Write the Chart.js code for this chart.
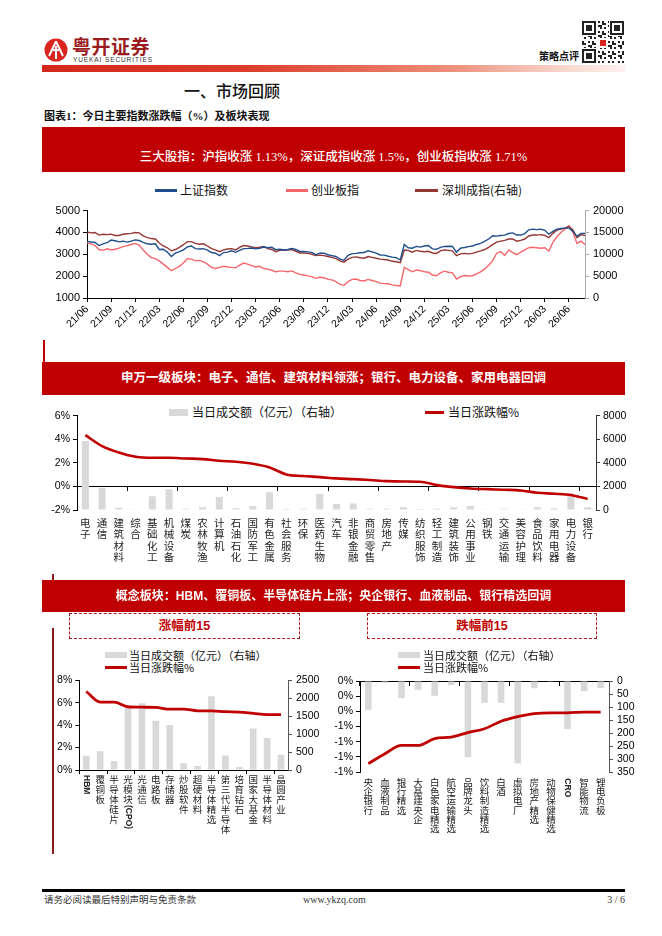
<!DOCTYPE html>
<html><head><meta charset="utf-8">
<script src="https://cdn.jsdelivr.net/npm/chart.js@4.4.1/dist/chart.umd.min.js"></script>
<style>
html,body{margin:0;padding:0;background:#fff;}
body{width:662px;height:936px;position:relative;overflow:hidden;font-family:"Noto Sans CJK SC",sans-serif;color:#111;}
.a{position:absolute;white-space:nowrap;}
.banner{position:absolute;left:42px;width:583px;background:#c00000;}
.btxt{position:absolute;left:42px;width:583px;text-align:center;color:#fff;font-size:12.5px;height:18px;line-height:18px;font-family:"Liberation Serif","Noto Sans CJK SC",serif;}
.leg{position:absolute;font-size:12px;height:16px;line-height:16px;color:#111;font-family:"Noto Sans CJK SC",sans-serif;}
.dash{position:absolute;border:1px dashed #b01818;text-align:center;color:#c00000;font-weight:700;font-size:12.5px;font-family:"Liberation Sans","Noto Sans CJK SC",sans-serif;}
canvas{position:absolute;}
</style></head>
<body>
<!-- header -->
<div class="a" style="left:44px;top:38px;width:24px;height:24px;">
<svg width="24" height="24" viewBox="0 0 24 24"><circle cx="12" cy="12" r="11.5" fill="#d7261e"/><path d="M12 3.5 L5 18 M12 3.5 L19 18 M7 12 H17 M12 8 V21" stroke="#fff" stroke-width="2" fill="none"/></svg>
</div>
<div class="a" style="left:72px;top:35px;font-size:19px;font-weight:700;color:#9b1c1f;letter-spacing:0.5px;line-height:22px;">粤开证券</div>
<div class="a" style="left:73px;top:56px;font-size:6.5px;color:#333;letter-spacing:0.9px;font-family:'Liberation Sans';line-height:8px;">YUEKAI SECURITIES</div>
<div class="a" style="left:539px;top:49px;font-size:10px;font-weight:700;line-height:14px;">策略点评</div>
<canvas id="qr" width="44" height="46" style="left:581px;top:19px;"></canvas>
<div class="a" style="left:42px;top:65px;width:583px;height:7px;background:linear-gradient(to right,#d2281c 0%,#dd3d2a 35%,#ec8f7a 70%,#f8d9d0 90%,#fdf1ee 100%);"></div>
<div class="a" style="left:184px;top:79px;font-size:16px;font-weight:500;line-height:22px;">一、市场回顾</div>
<div class="a" style="left:44px;top:109px;font-size:11px;font-weight:700;line-height:15px;font-family:'Liberation Serif','Noto Sans CJK SC',serif;">图表1：今日主要指数涨跌幅（%）及板块表现</div>

<!-- banner 1 -->
<div class="banner" style="top:127px;height:45px;"></div>
<div class="btxt" style="top:148px;font-weight:500;">三大股指：沪指收涨 1.13%，深证成指收涨 1.5%，创业板指收涨 1.71%</div>

<!-- top legend -->
<div class="a" style="left:155px;top:189px;width:22px;height:2.5px;background:#1f4e8c;"></div>
<div class="leg" style="left:180px;top:182px;">上证指数</div>
<div class="a" style="left:286px;top:189px;width:22px;height:2.5px;background:#f4676b;"></div>
<div class="leg" style="left:311px;top:182px;">创业板指</div>
<div class="a" style="left:415px;top:189px;width:23px;height:2.5px;background:#953735;"></div>
<div class="leg" style="left:442px;top:182px;">深圳成指(右轴)</div>
<canvas id="cTop" width="583" height="140" style="left:42px;top:200px;"></canvas>

<div class="a" style="left:43px;top:340px;width:1.5px;height:22px;background:#c00000;"></div>

<!-- banner 2 -->
<div class="banner" style="top:362px;height:33px;"></div>
<div class="btxt" style="top:369px;font-weight:700;">申万一级板块：电子、通信、建筑材料领涨；银行、电力设备、家用电器回调</div>

<div class="a" style="left:169px;top:409px;width:19px;height:7px;background:#d9d9d9;"></div>
<div class="leg" style="left:192px;top:404px;">当日成交额（亿元）（右轴）</div>
<div class="a" style="left:425px;top:411px;width:19px;height:3px;background:#c00000;"></div>
<div class="leg" style="left:448px;top:404px;">当日涨跌幅%</div>
<canvas id="cMid" width="590" height="175" style="left:42px;top:400px;"></canvas>

<!-- banner 3 -->
<div class="banner" style="top:580px;height:32px;"></div>
<div class="btxt" style="top:587px;font-weight:700;font-size:12px;font-family:'Liberation Sans','Noto Sans CJK SC',sans-serif;">概念板块：HBM、覆铜板、半导体硅片上涨；央企银行、血液制品、银行精选回调</div>

<div class="a" style="left:52px;top:574px;width:1.5px;height:6px;background:#8b1a1a;"></div>
<div class="a" style="left:52px;top:628px;width:1.5px;height:226px;background:#8b1a1a;"></div>

<div class="dash" style="left:69px;top:613px;width:229px;height:24px;line-height:24px;">涨幅前15</div>
<div class="dash" style="left:367px;top:613px;width:228px;height:24px;line-height:24px;">跌幅前15</div>

<div class="a" style="left:105px;top:652px;width:22px;height:6px;background:#d9d9d9;"></div>
<div class="leg" style="left:129px;top:647px;font-size:11px;">当日成交额（亿元）（右轴）</div>
<div class="a" style="left:105px;top:666px;width:22px;height:2.5px;background:#c00000;"></div>
<div class="leg" style="left:129px;top:659px;font-size:11px;">当日涨跌幅%</div>
<canvas id="cBL" width="290" height="180" style="left:45px;top:670px;"></canvas>

<div class="a" style="left:398px;top:652px;width:22px;height:6px;background:#d9d9d9;"></div>
<div class="leg" style="left:423px;top:647px;font-size:11px;">当日成交额（亿元）（右轴）</div>
<div class="a" style="left:398px;top:666px;width:22px;height:2.5px;background:#c00000;"></div>
<div class="leg" style="left:423px;top:659px;font-size:11px;">当日涨跌幅%</div>
<canvas id="cBR" width="308" height="180" style="left:328px;top:670px;"></canvas>

<!-- footer -->
<div class="a" style="left:42px;top:889px;width:583px;height:3px;background:#000;"></div>
<div class="a" style="left:44px;top:893px;font-size:9.5px;color:#333;line-height:14px;font-family:'Liberation Serif','Noto Sans CJK SC',serif;">请务必阅读最后特别声明与免责条款</div>
<div class="a" style="left:303px;top:893px;font-size:10px;color:#333;line-height:14px;font-family:'Liberation Serif',serif;">www.ykzq.com</div>
<div class="a" style="left:585px;top:893px;width:40px;text-align:right;font-size:10px;color:#333;line-height:14px;font-family:'Liberation Serif',serif;">3 / 6</div>

<script>
// ---------------- DATA ----------------
const months = ['21/06','21/07','21/08','21/09','21/10','21/11','21/12',
 '22/01','22/02','22/03','22/04','22/05','22/06','22/07','22/08','22/09','22/10','22/11','22/12',
 '23/01','23/02','23/03','23/04','23/05','23/06','23/07','23/08','23/09','23/10','23/11','23/12',
 '24/01','24/02','24/03','24/04','24/05','24/06','24/07','24/08','24/09','24/10','24/11','24/12',
 '25/01','25/02','25/03','25/04','25/05','25/06','25/07','25/08','25/09','25/10','25/11','25/12',
 '26/01','26/02','26/03','26/04','26/05','26/06','26/07','26/08'];
const quarterTicks = ['21/06','21/09','21/12','22/03','22/06','22/09','22/12','23/03','23/06','23/09','23/12',
 '24/03','24/06','24/09','24/12','25/03','25/06','25/09','25/12','26/03','26/06'];
// half-month samples (two per month)
const shIndex = [3590,3560,3540,3400,3480,3530,3650,3620,3570,3600,3560,3600,3660,3630,
 3550,3480,3460,3480,3220,3230,3100,2900,3050,3120,3200,3340,3380,3260,3240,3260,3190,3080,3050,2940,3080,3100,3160,3090,
 3180,3260,3270,3290,3250,3270,3330,3300,3320,3210,3230,3200,3220,3270,3220,3130,3130,3110,3090,2980,3050,3050,2980,2940,
 2900,2780,2730,2950,3030,3040,3070,3080,3160,3110,3050,2970,2960,2910,2870,2850,2740,3450,3300,3280,3360,3330,3380,3400,
 3250,3230,3320,3360,3370,3360,3100,3280,3310,3350,3380,3450,3500,3590,3700,3850,3830,3860,3880,3950,3980,3880,3880,3950,
 4120,4150,4130,4150,4100,3920,4050,4150,4180,4200,4200,4050,3820,3950,3960];
const szIndex = [15100,14900,15000,14400,14600,14500,14600,14300,14300,14600,14700,14800,15000,14900,
 14200,13800,13600,13500,12600,11900,11500,10800,11100,11600,12200,12900,12900,12500,12300,12400,11900,11300,11000,10600,11000,11200,11300,11000,
 11600,12000,11900,11700,11500,11600,11800,11300,11100,10600,10900,11000,11000,11100,10700,10300,10300,10200,10000,9700,9800,9700,9500,9300,
 9000,8500,8200,8900,9300,9400,9200,9100,9500,9300,9100,8900,8800,8700,8400,8300,8100,11000,10900,10500,10900,10700,10600,10700,
 10300,10200,10800,11000,10900,10800,9700,10100,10200,10100,10200,10500,10800,11100,11600,12200,12800,13000,13200,13500,13500,13000,13200,13500,
 14200,14400,14400,14500,14300,13800,14800,15500,15800,16000,16400,15600,13800,14500,14300];
const cybIndex = [3520,3480,3400,3220,3180,3250,3200,3230,3280,3350,3400,3450,3500,3420,
 3200,3000,2850,2800,2700,2550,2400,2250,2350,2450,2600,2800,2780,2700,2720,2650,2550,2400,2350,2400,2450,2420,2400,2380,
 2500,2600,2550,2480,2420,2450,2350,2320,2270,2200,2230,2230,2200,2240,2150,2080,2050,2010,1980,1900,1950,1930,1850,1830,
 1750,1620,1580,1750,1850,1870,1800,1780,1850,1800,1750,1680,1660,1650,1600,1570,1550,2400,2300,2200,2280,2250,2200,2180,
 2050,2020,2150,2230,2180,2150,1870,1980,2030,2010,2020,2100,2200,2320,2500,2700,3050,3120,2950,3200,3080,2980,3100,3200,
 3300,3320,3300,3280,3300,3150,3550,3800,4000,4150,4300,4000,3500,3600,3450];

const swSectors = ['电子','通信','建筑材料','综合','基础化工','机械设备','煤炭','农林牧渔','计算机','石油石化','国防军工','有色金属','社会服务','环保','医药生物','汽车','非银金融','商贸零售','房地产','传媒','纺织服饰','轻工制造','建筑装饰','公用事业','钢铁','交通运输','美容护理','食品饮料','家用电器','电力设备','银行'];
const swChange = [4.35,3.42,2.88,2.52,2.43,2.43,2.37,2.32,2.18,2.09,1.92,1.61,1.02,0.88,0.79,0.68,0.62,0.54,0.45,0.42,0.40,0.11,-0.06,-0.17,-0.23,-0.28,-0.34,-0.54,-0.62,-0.73,-1.07];
const swTurnover = [5850,1890,200,60,1160,1750,110,230,1100,140,340,1500,90,110,1360,510,560,110,110,230,90,110,230,340,60,110,60,230,140,1410,230];

const upNames = ['HBM','覆铜板','半导体硅片','光模块(CPO)','光通信','电路板','存储器','炒股软件','超硬材料','半导体精选','第三代半导体','培育钻石','国家大基金','半导体材料','晶圆产业'];
const upChange = [7.0,6.05,6.05,5.64,5.60,5.58,5.43,5.43,5.28,5.28,5.20,5.17,5.05,4.93,4.93];
const upTurnover = [400,525,250,1750,1860,1375,1255,185,110,2055,405,85,1160,895,425];

const downNames = ['央企银行','血液制品','银行精选','大基建央企','白色家电精选','航空运输精选','品牌龙头','饮料制造精选','白酒','虚拟电厂','房地产精选','动物保健精选','CRO','智能物流','锂电负极'];
const downChange = [-1.09,-0.96,-0.85,-0.85,-0.76,-0.74,-0.68,-0.63,-0.53,-0.47,-0.43,-0.42,-0.42,-0.41,-0.41];
const downTurnover = [111,7,66,34,57,15,293,84,84,317,28,3,185,39,27];

// ---------------- STYLE ----------------
const BLUE='#1f4e8c', PINK='#f4676b', BROWN='#953735', RED='#c00000', GRAY='#d9d9d9';
Chart.defaults.font.family = '"Liberation Sans","Noto Sans CJK SC",sans-serif';
Chart.defaults.color = '#000';
const halfMonths = months.flatMap(m => [m, m]).slice(0, shIndex.length);
const tickFont = {size: 11, family: '"Liberation Sans",sans-serif'};
const plain = v => String(Math.round(v));
const pct = v => { const r = Math.round(v); return (r === 0 ? 0 : r) + '%'; };

// vertical (top-to-bottom) category labels, Latin runs rotated
const vLabels = {
  id: 'vLabels',
  afterDraw(chart, args, o) {
    const xs = chart.scales.x, ctx = chart.ctx;
    ctx.save();
    ctx.fillStyle = o.color || '#222';
    ctx.textAlign = 'center';
    ctx.textBaseline = 'middle';
    chart.data.labels.forEach((lab, i) => {
      const x = xs.getPixelForValue(i);
      let y = chart.chartArea.bottom + o.start;
      const runs = lab.match(/[\x00-\x7F]+|[^\x00-\x7F]/g) || [];
      runs.forEach(r => {
        if (/^[\x00-\x7F]+$/.test(r)) {
          ctx.font = o.latinFont;
          const w = ctx.measureText(r).width;
          ctx.save();
          ctx.translate(x, y - o.step / 2 + w / 2 + 1);
          ctx.rotate(Math.PI / 2);
          ctx.fillText(r, 0, 0);
          ctx.restore();
          y += w + 2;
        } else {
          ctx.font = o.font;
          ctx.fillText(r, x, y);
          y += o.step;
        }
      });
    });
    ctx.restore();
  }
};

function hideX(h) {
  return {axis:'x', offset:true, ticks:{display:false}, grid:{display:false, offset:true}, border:{display:false}, afterFit: s => { s.height = h; }};
}

// ---------------- TOP CHART ----------------
new Chart(document.getElementById('cTop'), {
  type: 'line',
  data: {labels: halfMonths, datasets: [
    {label:'上证指数', data: shIndex, borderColor: BLUE, yAxisID:'y', order:1},
    {label:'深圳成指(右轴)', data: szIndex, borderColor: BROWN, yAxisID:'y1', order:2},
    {label:'创业板指', data: cybIndex, borderColor: PINK, yAxisID:'y', order:3}
  ]},
  options: {
    responsive:false, animation:false, devicePixelRatio:1,
    layout:{padding:{top:10, left:0, right:0, bottom:0}},
    plugins:{legend:{display:false}, tooltip:{enabled:false}},
    elements:{point:{radius:0}, line:{borderWidth:1.4, tension:0}},
    scales: {
      x: {ticks:{autoSkip:false, maxRotation:45, minRotation:45, padding:1, font:{size:10.5}, color:'#000',
            callback:(v,i) => i % 6 === 0 ? quarterTicks[i/6] : ''},
          grid:{drawOnChartArea:false, tickLength:4, color: c => c.index % 6 === 0 ? '#000' : 'rgba(0,0,0,0)'},
          border:{color:'#000'}, afterFit: s => { s.height = 42; }},
      y: {position:'left', min:1000, max:5000, ticks:{stepSize:1000, autoSkip:false, font:tickFont, padding:3, callback: plain},
          grid:{drawOnChartArea:false, tickLength:4, color:'#000'}, border:{color:'#000'},
          afterFit: s => { s.width = 45; }},
      y1: {position:'right', min:0, max:20000, ticks:{stepSize:5000, autoSkip:false, font:tickFont, padding:4, callback: plain},
          grid:{drawOnChartArea:false, tickLength:4, color:'#aaa'}, border:{color:'#aaa'},
          afterFit: s => { s.width = 40; }}
    }
  }
});

// ---------------- MIDDLE CHART ----------------
new Chart(document.getElementById('cMid'), {
  type: 'bar',
  data: {labels: swSectors, datasets: [
    {type:'line', label:'当日涨跌幅%', data: swChange, borderColor: RED, borderWidth:2.6, pointRadius:0,
     tension:0.4, cubicInterpolationMode:'monotone', yAxisID:'y', xAxisID:'x', order:0},
    {type:'bar', label:'当日成交额（亿元）（右轴）', data: swTurnover, backgroundColor: GRAY,
     barPercentage:0.42, categoryPercentage:1, yAxisID:'y1', xAxisID:'x', order:1}
  ]},
  plugins: [vLabels],
  options: {
    responsive:false, animation:false, devicePixelRatio:1,
    layout:{padding:{top:15.7}},
    plugins:{legend:{display:false}, tooltip:{enabled:false},
      vLabels:{start:13, step:11.3, font:'10.5px "Noto Sans CJK SC"', latinFont:'9px "Liberation Sans"', color:'#222'}},
    scales: {
      x: hideX(65),
      x0: {axis:'x', type:'category', offset:true, position:{y:0}, ticks:{display:false},
           grid:{offset:true, drawOnChartArea:false, tickLength:4, color: c => c.index % 3 === 0 ? '#000' : 'rgba(0,0,0,0)'},
           border:{color:'#000'}},
      y: {position:'left', min:-2, max:6, ticks:{stepSize:2, autoSkip:false, font:{size:10.5}, padding:3, callback: pct},
          grid:{drawOnChartArea:false, tickLength:4, color:'#000'}, border:{color:'#000'},
          afterFit: s => { s.width = 35; }},
      y1: {position:'right', min:0, max:8000, ticks:{stepSize:2000, autoSkip:false, font:{size:10.5}, padding:3, callback: plain},
          grid:{drawOnChartArea:false, tickLength:4, color:'#333'}, border:{color:'#333'},
          afterFit: s => { s.width = 36; }}
    }
  }
});

// ---------------- BOTTOM LEFT ----------------
new Chart(document.getElementById('cBL'), {
  type: 'bar',
  data: {labels: upNames, datasets: [
    {type:'line', label:'当日涨跌幅%', data: upChange, borderColor: RED, borderWidth:2.8, pointRadius:0,
     tension:0.3, cubicInterpolationMode:'monotone', yAxisID:'y', xAxisID:'x', order:0},
    {type:'bar', label:'当日成交额（亿元）（右轴）', data: upTurnover, backgroundColor: GRAY,
     barPercentage:0.48, categoryPercentage:1, yAxisID:'y1', xAxisID:'x', order:1}
  ]},
  plugins: [vLabels],
  options: {
    responsive:false, animation:false, devicePixelRatio:1,
    layout:{padding:{top:9.7}},
    plugins:{legend:{display:false}, tooltip:{enabled:false},
      vLabels:{start:9, step:10, font:'9.5px "Noto Sans CJK SC"', latinFont:'bold 8.5px "Liberation Sans"', color:'#222'}},
    scales: {
      x: {axis:'x', offset:true, ticks:{display:false},
          grid:{offset:true, drawOnChartArea:false, tickLength:4, color: c => c.index % 2 === 0 ? '#000' : 'rgba(0,0,0,0)'},
          border:{color:'#000'}, afterFit: s => { s.height = 80; }},
      y: {position:'left', min:0, max:8, ticks:{stepSize:2, autoSkip:false, font:{size:10.5}, padding:3, callback: pct},
          grid:{drawOnChartArea:false, tickLength:4, color:'#000'}, border:{color:'#000'},
          afterFit: s => { s.width = 34.3; }},
      y1: {position:'right', min:0, max:2500, ticks:{stepSize:500, autoSkip:false, font:{size:10.5}, padding:4, callback: plain},
          grid:{drawOnChartArea:false, tickLength:4, color:'#555'}, border:{color:'#555'},
          afterFit: s => { s.width = 47; }}
    }
  }
});

// ---------------- BOTTOM RIGHT ----------------
new Chart(document.getElementById('cBR'), {
  type: 'bar',
  data: {labels: downNames, datasets: [
    {type:'line', label:'当日涨跌幅%', data: downChange, borderColor: RED, borderWidth:2.8, pointRadius:0,
     tension:0.3, cubicInterpolationMode:'monotone', yAxisID:'y', xAxisID:'x', order:0},
    {type:'bar', label:'当日成交额（亿元）（右轴）', data: downTurnover, backgroundColor: GRAY,
     barPercentage:0.4, categoryPercentage:1, yAxisID:'y1', xAxisID:'x', order:1}
  ]},
  plugins: [vLabels],
  options: {
    responsive:false, animation:false, devicePixelRatio:1,
    layout:{padding:{top:11}},
    plugins:{legend:{display:false}, tooltip:{enabled:false},
      vLabels:{start:10, step:9.3, font:'9.5px "Noto Sans CJK SC"', latinFont:'bold 8.5px "Liberation Sans"', color:'#222'}},
    scales: {
      x: hideX(78),
      x0: {axis:'x', type:'category', offset:true, position:{y:0}, ticks:{display:false},
           grid:{offset:true, drawOnChartArea:false, tickLength:4, color: c => c.index % 3 === 0 ? '#000' : 'rgba(0,0,0,0)'},
           border:{color:'#000'}},
      y: {position:'left', min:-1.2, max:0, ticks:{stepSize:0.2, autoSkip:false, font:{size:10.5}, padding:3, callback: pct},
          grid:{drawOnChartArea:false, tickLength:4, color:'#000'}, border:{color:'#000'},
          afterFit: s => { s.width = 32; }},
      y1: {position:'right', reverse:true, min:0, max:350, ticks:{stepSize:50, autoSkip:false, font:{size:10.5}, padding:4, callback: plain},
          grid:{drawOnChartArea:false, tickLength:4, color:'#555'}, border:{color:'#555'},
          afterFit: s => { s.width = 27; }}
    }
  }
});

// ---------------- QR decoration ----------------
(function(){
  const q = document.getElementById('qr').getContext('2d');
  q.fillStyle = '#fff'; q.fillRect(0,0,44,46);
  q.fillStyle = '#222';
  for (let i = 0; i < 21; i++) for (let j = 0; j < 21; j++) {
    if (((i*31 + j*17 + i*j*7) % 5) < 2) q.fillRect(1 + j*2, 2 + i*2, 2, 2);
  }
  function finder(x, y) {
    q.fillStyle='#fff'; q.fillRect(x-1,y-1,16,16);
    q.fillStyle='#222'; q.fillRect(x,y,14,14);
    q.fillStyle='#fff'; q.fillRect(x+2,y+2,10,10);
    q.fillStyle='#222'; q.fillRect(x+4,y+4,6,6);
  }
  finder(1,2); finder(29,2); finder(1,30);
  q.fillStyle='#fff'; q.fillRect(17,19,10,10);
  q.fillStyle='#d7261e'; q.fillRect(19,21,6,6);
})();
</script>
</body></html>
